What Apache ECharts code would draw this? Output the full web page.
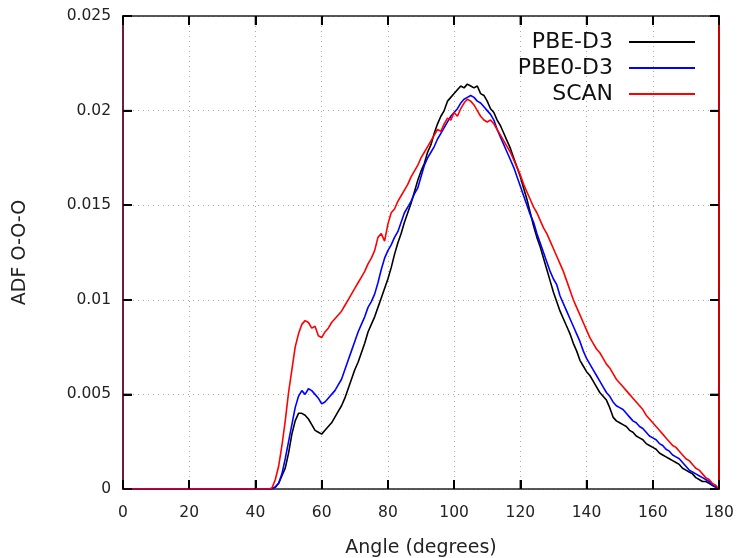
<!DOCTYPE html>
<html>
<head>
<meta charset="utf-8">
<script src="https://cdn.jsdelivr.net/npm/echarts@6/dist/echarts.min.js"></script>
<style>
  html, body { margin: 0; padding: 0; background: #fff; }
  #main { width: 739px; height: 558px; }
</style>
</head>
<body>
<div id="main"></div>
<script>
// angle samples, 0..180 deg in 1 degree steps
var angles = []
for (var a = 0; a <= 180; a++) angles.push(a)

var seriesNames = ['PBE-D3', 'PBE0-D3', 'SCAN']
var xTicks = [0, 20, 40, 60, 80, 100, 120, 140, 160, 180]
var yTicks = [0, 0.005, 0.01, 0.015, 0.02, 0.025]

var pbeD3 = [
  0, 0, 0, 0, 0, 0, 0, 0, 0, 0,
  0, 0, 0, 0, 0, 0, 0, 0, 0, 0,
  0, 0, 0, 0, 0, 0, 0, 0, 0, 0,
  0, 0, 0, 0, 0, 0, 0, 0, 0, 0,
  0, 0, 0, 0, 0, 0.00003, 0.0001, 0.0003, 0.0007, 0.0011,
  0.0019, 0.0029, 0.0036, 0.0040, 0.0040, 0.0039, 0.0037, 0.0034, 0.0031, 0.0030,
  0.0029, 0.0031, 0.0033, 0.0035, 0.0038, 0.0041, 0.0044, 0.0048, 0.0053, 0.0058,
  0.0063, 0.0067, 0.0072, 0.0077, 0.0083, 0.0087, 0.0091, 0.0096, 0.0101, 0.0106,
  0.0111, 0.0117, 0.0124, 0.0130, 0.0135, 0.0141, 0.0146, 0.0151, 0.0157, 0.0163,
  0.0168, 0.0172, 0.0178, 0.0182, 0.0188, 0.0193, 0.0197, 0.0200, 0.0205, 0.0207,
  0.0209, 0.0211, 0.0213, 0.0212, 0.0214, 0.0213, 0.0212, 0.0213, 0.0209, 0.0208,
  0.0205, 0.0201, 0.0199, 0.0195, 0.0192, 0.0188, 0.0184, 0.0180, 0.0175, 0.0170,
  0.0165, 0.0159, 0.0153, 0.0146, 0.0139, 0.0133, 0.0128, 0.0122, 0.0116, 0.0110,
  0.0104, 0.0099, 0.0094, 0.0090, 0.0086, 0.0082, 0.0077, 0.0073, 0.0068, 0.0065,
  0.0062, 0.0060, 0.0057, 0.0054, 0.0051, 0.0049, 0.0047, 0.0043, 0.0038, 0.0036,
  0.0035, 0.0034, 0.0033, 0.0031, 0.0030, 0.0028, 0.0027, 0.0026, 0.0024, 0.0023,
  0.0022, 0.0021, 0.0019, 0.0018, 0.0017, 0.0016, 0.0015, 0.0014, 0.0013, 0.0011,
  0.0010, 0.0009, 0.0008, 0.0006, 0.0005, 0.0004, 0.0004, 0.0003, 0.0002, 0.0001,
  0
]

var pbe0D3 = [
  0, 0, 0, 0, 0, 0, 0, 0, 0, 0,
  0, 0, 0, 0, 0, 0, 0, 0, 0, 0,
  0, 0, 0, 0, 0, 0, 0, 0, 0, 0,
  0, 0, 0, 0, 0, 0, 0, 0, 0, 0,
  0, 0, 0, 0, 0, 0.00002, 0.0001, 0.0003, 0.0008, 0.0016,
  0.0025, 0.0034, 0.0043, 0.0049, 0.0052, 0.0050, 0.0053, 0.0052, 0.0050, 0.0048,
  0.0045, 0.0046, 0.0048, 0.0050, 0.0052, 0.0055, 0.0058, 0.0063, 0.0068, 0.0073,
  0.0078, 0.0083, 0.0087, 0.0091, 0.0096, 0.0099, 0.0103, 0.0109, 0.0116, 0.0122,
  0.0126, 0.0129, 0.0133, 0.0136, 0.0141, 0.0146, 0.0149, 0.0152, 0.0156, 0.0159,
  0.0165, 0.0171, 0.0175, 0.0178, 0.0181, 0.0185, 0.0188, 0.0191, 0.0194, 0.0197,
  0.0199, 0.0201, 0.0204, 0.0206, 0.0207, 0.0208, 0.0207, 0.0205, 0.0204, 0.0202,
  0.0200, 0.0198, 0.0195, 0.0190, 0.0186, 0.0182, 0.0178, 0.0174, 0.0170, 0.0165,
  0.0160, 0.0155, 0.0150, 0.0145, 0.0141, 0.0135, 0.0130, 0.0125, 0.0120, 0.0115,
  0.0111, 0.0108, 0.0102, 0.0098, 0.0094, 0.0090, 0.0086, 0.0082, 0.0078, 0.0073,
  0.0069, 0.0066, 0.0063, 0.0060, 0.0057, 0.0054, 0.0051, 0.0049, 0.0046, 0.0044,
  0.0043, 0.0042, 0.0040, 0.0038, 0.0036, 0.0035, 0.0033, 0.0032, 0.0030, 0.0028,
  0.0027, 0.0026, 0.0024, 0.0023, 0.0021, 0.0020, 0.0018, 0.0017, 0.0016, 0.0014,
  0.0012, 0.0010, 0.0009, 0.0008, 0.0007, 0.0006, 0.0005, 0.0004, 0.0002, 0.0001,
  0
]

var scan = [
  0, 0, 0, 0, 0, 0, 0, 0, 0, 0,
  0, 0, 0, 0, 0, 0, 0, 0, 0, 0,
  0, 0, 0, 0, 0, 0, 0, 0, 0, 0,
  0, 0, 0, 0, 0, 0, 0, 0, 0, 0,
  0, 0, 0, 0, 0, 0.00005, 0.0005, 0.0012, 0.0023, 0.0036,
  0.0051, 0.0063, 0.0075, 0.0082, 0.0087, 0.0089, 0.0088, 0.0085, 0.0086, 0.0081,
  0.0080, 0.0083, 0.0085, 0.0088, 0.0090, 0.0092, 0.0094, 0.0097, 0.0100, 0.0103,
  0.0106, 0.0109, 0.0112, 0.0115, 0.0119, 0.0122, 0.0126, 0.0133, 0.0135, 0.0131,
  0.0140, 0.0146, 0.0148, 0.0152, 0.0155, 0.0158, 0.0161, 0.0165, 0.0168, 0.0171,
  0.0175, 0.0178, 0.0181, 0.0184, 0.0187, 0.0190, 0.0189, 0.0193, 0.0196, 0.0195,
  0.0199, 0.0197, 0.0201, 0.0204, 0.0206, 0.0205, 0.0203, 0.0200, 0.0197, 0.0195,
  0.0194, 0.0195, 0.0193, 0.0190, 0.0187, 0.0184, 0.0181, 0.0178, 0.0174, 0.0170,
  0.0166, 0.0161, 0.0157, 0.0153, 0.0149, 0.0146, 0.0142, 0.0138, 0.0135, 0.0131,
  0.0127, 0.0123, 0.0119, 0.0115, 0.0110, 0.0105, 0.0100, 0.0096, 0.0092, 0.0088,
  0.0084, 0.0080, 0.0077, 0.0074, 0.0072, 0.0069, 0.0066, 0.0064, 0.0061, 0.0058,
  0.0056, 0.0054, 0.0052, 0.0050, 0.0048, 0.0046, 0.0044, 0.0042, 0.0039, 0.0037,
  0.0035, 0.0033, 0.0031, 0.0029, 0.0027, 0.0025, 0.0023, 0.0022, 0.0020, 0.0018,
  0.0016, 0.0015, 0.0013, 0.0011, 0.0010, 0.0008, 0.0006, 0.0005, 0.0003, 0.0002,
  0
]

var colors = ['#000000', '#0000ff', '#ff0000']

function pairs(vals) {
  return angles.map(function (x, i) { return [x, vals[i]] })
}

var font = 'DejaVu Sans'
var gridLine = { show: true, lineStyle: { color: '#a8a8a8', type: [1, 4], width: 1 } }
var TICK = 9

// gnuplot style mirrored inward ticks, drawn through the axis scales
function tickRect(x, y, w, h) {
  return { type: 'rect', shape: { x: x, y: y, width: w, height: h },
    style: { fill: '#000' } }
}
function xTickItem(params, api) {
  var lo = api.coord([api.value(0), 0])
  var hi = api.coord([api.value(0), 0.025])
  return { type: 'group', children: [
    tickRect(lo[0] - 0.75, lo[1] - TICK, 1.5, TICK),
    tickRect(hi[0] - 0.75, hi[1], 1.5, TICK)
  ] }
}
function yTickItem(params, api) {
  var l = api.coord([0, api.value(1)])
  var r = api.coord([180, api.value(1)])
  return { type: 'group', children: [
    tickRect(l[0], l[1] - 0.75, TICK, 1.5),
    tickRect(r[0] - TICK, r[1] - 0.75, TICK, 1.5)
  ] }
}

var myChart = echarts.init(document.getElementById('main'))
myChart.setOption({
  animation: false,
  textStyle: { fontFamily: font },
  grid: { left: 123, right: 20, top: 16, bottom: 69, outerBoundsMode: 'none', containLabel: false },
  legend: {
    data: seriesNames,
    orient: 'vertical',
    right: 39,
    top: 24,
    align: 'right',
    icon: 'rect',
    itemWidth: 66,
    itemHeight: 2,
    itemGap: 0,
    textStyle: { fontFamily: font, fontSize: 22, color: '#111', lineHeight: 26, padding: [0, 11, 0, 0] }
  },
  xAxis: [{
    type: 'value',
    min: 0, max: 180, interval: 20,
    name: 'Angle (degrees)',
    nameLocation: 'middle',
    nameGap: 50,
    nameTextStyle: { fontFamily: font, fontSize: 19, color: '#222' },
    axisLine: { show: true, onZero: false, lineStyle: { color: '#222', width: 1.5 } },
    axisTick: { show: true, inside: true, length: 9, lineStyle: { color: '#000', width: 2 } },
    axisLabel: { fontFamily: font, fontSize: 15.5, color: '#222', margin: 16,
      formatter: function (v) { return xTicks.indexOf(v) >= 0 ? String(v) : '' } },
    splitLine: gridLine
  }, {
    type: 'value', position: 'top',
    min: 0, max: 180, interval: 20,
    axisLine: { show: true, onZero: false, lineStyle: { color: '#222', width: 1.5 } },
    axisTick: { show: true, inside: true, length: 9, lineStyle: { color: '#000', width: 2 } },
    axisLabel: { show: false },
    splitLine: { show: false }
  }],
  yAxis: [{
    type: 'value',
    min: 0, max: 0.025, interval: 0.005,
    name: 'ADF O-O-O',
    nameLocation: 'middle',
    nameGap: 93,
    nameTextStyle: { fontFamily: font, fontSize: 19, color: '#222' },
    axisLine: { show: true, onZero: false, lineStyle: { color: '#6a1e40', width: 2 } },
    axisTick: { show: true, inside: true, length: 9, lineStyle: { color: '#000', width: 2 } },
    axisLabel: { fontFamily: font, fontSize: 15.5, color: '#222', margin: 12 },
    splitLine: gridLine
  }, {
    type: 'value', position: 'right',
    min: 0, max: 0.025, interval: 0.005,
    axisLine: { show: true, onZero: false, lineStyle: { color: '#c80000', width: 2 } },
    axisTick: { show: true, inside: true, length: 9, lineStyle: { color: '#000', width: 2 } },
    axisLabel: { show: false },
    splitLine: { show: false }
  }],
  series: [
    { type: 'custom', coordinateSystem: 'cartesian2d', silent: true, clip: false, z: 5,
      renderItem: xTickItem, data: xTicks.map(function (v) { return [v, 0] }) },
    { type: 'custom', coordinateSystem: 'cartesian2d', silent: true, clip: false, z: 5,
      renderItem: yTickItem, data: yTicks.map(function (v) { return [0, v] }) },
    { name: seriesNames[0], type: 'line', data: pairs(pbeD3), showSymbol: false, symbol: 'none',
      lineStyle: { color: colors[0], width: 1.6 }, itemStyle: { color: colors[0] } },
    { name: seriesNames[1], type: 'line', data: pairs(pbe0D3), showSymbol: false, symbol: 'none',
      lineStyle: { color: colors[1], width: 1.6 }, itemStyle: { color: colors[1] } },
    { name: seriesNames[2], type: 'line', data: pairs(scan), showSymbol: false, symbol: 'none',
      lineStyle: { color: colors[2], width: 1.6 }, itemStyle: { color: colors[2] } }
  ]
})
</script>
</body>
</html>
